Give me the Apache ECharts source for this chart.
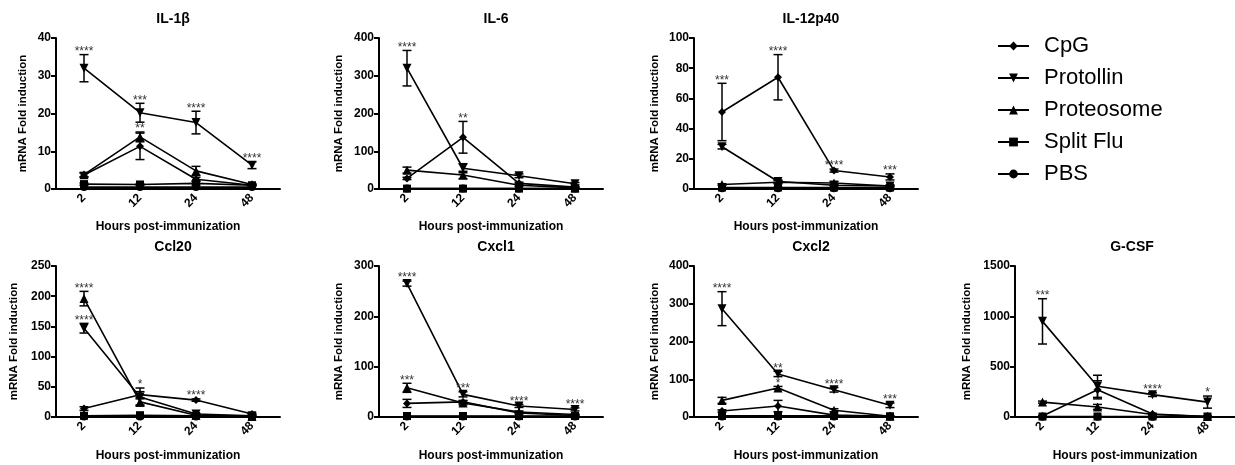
<!DOCTYPE html>
<html>
<head>
<meta charset="utf-8">
<script src="https://cdn.jsdelivr.net/npm/echarts@6/dist/echarts.min.js"></script>
<style>
html,body{margin:0;padding:0;background:#fff}
#main{width:1235px;height:465px}
</style>
</head>
<body>
<div id="main"></div>
<script>
// categories and groups
var hours = ['2', '12', '24', '48'];
var groups = ['CpG', 'Protollin', 'Proteosome', 'Split Flu', 'PBS'];

// mean per group (CpG, Protollin, Proteosome, Split Flu, PBS)
var il1bMean = [[3.7, 11.3, 2.6, 1.0], [32, 20.2, 17.6, 6.3], [3.8, 13.8, 4.8, 1.2], [1.3, 1.2, 1.5, 1.0], [0.5, 0.5, 0.5, 0.5]];
var il1bSem  = [[0.5, 3.5, 0.5, 0.2], [3.6, 2.5, 3.0, 0.9], [0.6, 1.3, 1.2, 0.2], [0.3, 0.2, 0.5, 0.2], [0, 0, 0, 0]];
var il1bSig  = [[1, 0, '****'], [1, 1, '***'], [2, 1, '**'], [1, 2, '****'], [1, 3, '****']];

var il6Mean = [[28, 137, 15, 5], [320, 55, 35, 14], [50, 37, 10, 3], [1, 1, 1, 1], [1, 1, 1, 1]];
var il6Sem  = [[3, 42, 3, 1], [47, 12, 5, 3], [8, 10, 3, 1], [0, 0, 0, 0], [0, 0, 0, 0]];
var il6Sig  = [[1, 0, '****'], [0, 1, '**']];

var il12Mean = [[51, 74, 12.2, 8], [28, 5, 2.5, 2], [3, 4.5, 4, 2], [1, 1, 1, 1], [0.5, 0.5, 0.5, 0.5]];
var il12Sem  = [[19, 15, 1, 2], [1.5, 1, 0.5, 0.5], [0.5, 1, 1, 0.5], [0, 0, 0, 0], [0, 0, 0, 0]];
var il12Sig  = [[0, 0, '***'], [0, 1, '****'], [0, 2, '****'], [0, 3, '***']];

var ccl20Mean = [[14, 37, 28, 5], [147, 33, 5, 2], [196, 25, 3, 1], [2, 3, 2, 1], [1, 1, 1, 1]];
var ccl20Sem  = [[3, 5, 2, 1], [8, 15, 1, 0.5], [12, 5, 1, 0.5], [0, 0, 0, 0], [0, 0, 0, 0]];
var ccl20Sig  = [[2, 0, '****'], [1, 0, '****'], [1, 1, '*'], [0, 2, '****']];

var cxcl1Mean = [[27, 30, 8, 3], [265, 45, 22, 15], [58, 28, 10, 5], [2, 2, 2, 2], [1, 1, 1, 1]];
var cxcl1Sem  = [[8, 3, 2, 1], [5, 5, 3, 3], [9, 4, 2, 1], [0, 0, 0, 0], [0, 0, 0, 0]];
var cxcl1Sig  = [[1, 0, '****'], [2, 0, '***'], [1, 1, '***'], [1, 2, '****'], [1, 3, '****']];

var cxcl2Mean = [[16, 29, 5, 2], [287, 114, 72, 31], [44, 77, 18, 2], [3, 3, 3, 2], [1, 1, 1, 1]];
var cxcl2Sem  = [[3, 15, 2, 0.5], [45, 7, 6, 6], [8, 4, 4, 0.5], [0, 0, 0, 0], [0, 0, 0, 0]];
var cxcl2Sig  = [[1, 0, '****'], [1, 1, '**'], [2, 1, '*'], [1, 2, '****'], [1, 3, '***']];

var gcsfMean = [[10, 270, 30, 5], [950, 305, 222, 148], [148, 100, 25, 5], [5, 5, 5, 5], [2, 2, 2, 2]];
var gcsfSem  = [[3, 90, 5, 2], [225, 110, 18, 60], [10, 25, 5, 2], [0, 0, 0, 0], [0, 0, 0, 0]];
var gcsfSig  = [[1, 0, '***'], [1, 2, '****'], [1, 3, '*']];

var FONT = 'Liberation Sans, Arial, Helvetica, sans-serif';

// layout of the 7 panels
var panels = [
    {title: 'IL-1β',    max: 40,   step: 10,  mean: il1bMean,  sem: il1bSem,  sig: il1bSig,  left: 56,   top: 38,  gap: 27},
    {title: 'IL-6',     max: 400,  step: 100, mean: il6Mean,   sem: il6Sem,   sig: il6Sig,   left: 379,  top: 38,  gap: 34},
    {title: 'IL-12p40', max: 100,  step: 20,  mean: il12Mean,  sem: il12Sem,  sig: il12Sig,  left: 694,  top: 38,  gap: 33},
    {title: 'Ccl20',    max: 250,  step: 50,  mean: ccl20Mean, sem: ccl20Sem, sig: ccl20Sig, left: 56,   top: 266, gap: 36},
    {title: 'Cxcl1',    max: 300,  step: 100, mean: cxcl1Mean, sem: cxcl1Sem, sig: cxcl1Sig, left: 379,  top: 266, gap: 34},
    {title: 'Cxcl2',    max: 400,  step: 100, mean: cxcl2Mean, sem: cxcl2Sem, sig: cxcl2Sig, left: 694,  top: 266, gap: 33},
    {title: 'G-CSF',    max: 1500, step: 500, mean: gcsfMean,  sem: gcsfSem,  sig: gcsfSig,  left: 1015, top: 266, gap: 42}
];
var W = 224, H = 151;

var symbols = ['diamond', 'triangle', 'triangle', 'rect', 'circle'];
var symRot = [0, 180, 0, 0, 0];
var symSize = [8, 9, 9, 8, 8];

var grids = [], xAxes = [], yAxes = [], titles = [], series = [];

panels.forEach(function (p, i) {
    grids.push({left: p.left, top: p.top, width: W, height: H});
    titles.push({
        text: p.title, left: p.left + W / 2, top: p.top - 31, textAlign: 'center',
        textStyle: {fontSize: 14, fontWeight: 'bold', color: '#000', fontFamily: FONT}
    });
    xAxes.push({
        type: 'category', gridIndex: i, data: hours, boundaryGap: true,
        axisLine: {lineStyle: {color: '#000', width: 2}},
        axisTick: {alignWithLabel: true, length: 4, lineStyle: {width: 1.5}},
        axisLabel: {rotate: 45, fontSize: 12, fontWeight: 'bold', color: '#000', margin: 7, fontFamily: FONT},
        name: 'Hours post-immunization', nameLocation: 'middle', nameGap: i < 3 ? 32 : 33,
        nameTextStyle: {fontSize: 12, fontWeight: 'bold', color: '#000', fontFamily: FONT}
    });
    yAxes.push({
        type: 'value', gridIndex: i, min: 0, max: p.max, interval: p.step,
        axisLine: {show: true, lineStyle: {color: '#000', width: 2}},
        axisTick: {show: true, length: 5, lineStyle: {width: 2}},
        axisLabel: {fontSize: 12, fontWeight: 'bold', color: '#000', margin: 5, fontFamily: FONT,
                    formatter: function (v) { return String(v); }},
        splitLine: {show: false},
        name: 'mRNA Fold induction', nameLocation: 'middle', nameGap: p.gap,
        nameTextStyle: {fontSize: 11.5, fontWeight: 'bold', color: '#000', fontFamily: FONT}
    });

    // error bars
    var errData = [];
    p.mean.forEach(function (arr, g) {
        arr.forEach(function (v, c) {
            if (p.sem[g][c] > 0) errData.push([c, v, p.sem[g][c]]);
        });
    });
    series.push({
        type: 'custom', xAxisIndex: i, yAxisIndex: i, data: errData, z: 3, silent: true,
        renderItem: function (params, api) {
            var c = api.value(0), m = api.value(1), e = api.value(2);
            var hi = api.coord([c, m + e]);
            var lo = api.coord([c, Math.max(m - e, 0)]);
            var hw = 4.5, st = {stroke: '#000', lineWidth: 1.5};
            return {type: 'group', children: [
                {type: 'line', shape: {x1: hi[0], y1: hi[1], x2: lo[0], y2: lo[1]}, style: st},
                {type: 'line', shape: {x1: hi[0] - hw, y1: hi[1], x2: hi[0] + hw, y2: hi[1]}, style: st},
                {type: 'line', shape: {x1: lo[0] - hw, y1: lo[1], x2: lo[0] + hw, y2: lo[1]}, style: st}
            ]};
        }
    });

    // lines
    groups.forEach(function (name, g) {
        series.push({
            type: 'line', name: name, xAxisIndex: i, yAxisIndex: i, data: p.mean[g],
            symbol: symbols[g], symbolRotate: symRot[g], symbolSize: symSize[g],
            showAllSymbol: true,
            lineStyle: {color: '#000', width: 1.6},
            itemStyle: {color: '#000'},
            z: 4
        });
    });

    // significance stars
    var sigs = p.sig;
    var sigData = sigs.map(function (s) {
        return [s[1], p.mean[s[0]][s[1]] + p.sem[s[0]][s[1]]];
    });
    series.push({
        type: 'custom', xAxisIndex: i, yAxisIndex: i, data: sigData, z: 5, silent: true,
        renderItem: function (params, api) {
            var pt = api.coord([api.value(0), api.value(1)]);
            return {
                type: 'text', x: pt[0], y: pt[1] + 3,
                style: {text: sigs[params.dataIndex][2], align: 'center', verticalAlign: 'bottom',
                        fontSize: 12, fontFamily: FONT, fill: '#333'}
            };
        }
    });
});

var chart = echarts.init(document.getElementById('main'));
chart.setOption({
    animation: false,
    backgroundColor: '#fff',
    textStyle: {fontFamily: FONT},
    title: titles,
    legend: {
        data: groups, orient: 'vertical', left: 997, top: 35, padding: 0,
        itemWidth: 31, itemHeight: 11, itemGap: 10,
        lineStyle: {width: 2},
        textStyle: {fontSize: 22, color: '#000', fontFamily: FONT, padding: [0, 0, 0, 10]},
        selectedMode: false
    },
    grid: grids,
    xAxis: xAxes,
    yAxis: yAxes,
    series: series
});
</script>
</body>
</html>
